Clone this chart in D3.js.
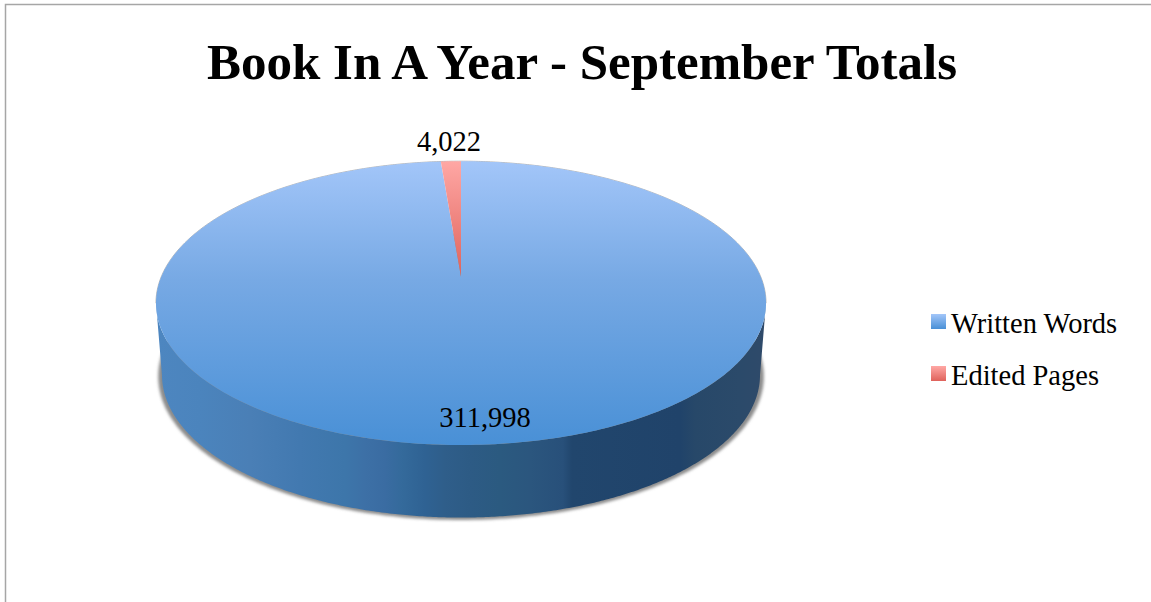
<!DOCTYPE html>
<html><head><meta charset="utf-8">
<script src="https://cdn.jsdelivr.net/npm/d3@7"></script>
<style>html,body{margin:0;padding:0;background:#fff}svg{display:block}text{font-family:"Liberation Serif",serif;fill:#000}</style>
</head><body><div id="c"></div>
<script>
const categories = ["Written Words", "Edited Pages"];
const values = [311998, 4022];
const valueLabels = ["311,998", "4,022"];
const titleText = "Book In A Year - September Totals";

const W = 1151, H = 602;
const svg = d3.select("#c").append("svg").attr("width", W).attr("height", H);
const defs = svg.append("defs");

// frame
svg.append("path").attr("d", `M5.5,${H}V4.5H${W}`).attr("fill", "none").attr("stroke", "#a6a6a6").attr("stroke-width", 1.5);

// gradients
function vgrad(id, y0, y1, stops) {
  const g = defs.append("linearGradient").attr("id", id).attr("gradientUnits", "userSpaceOnUse")
    .attr("x1", 0).attr("x2", 0).attr("y1", y0).attr("y2", y1);
  stops.forEach(s => g.append("stop").attr("offset", s[0]).attr("stop-color", s[1]));
}
vgrad("blueTop", 160, 445, [[0, "#a3c6f9"], [0.42, "#77a9e4"], [1, "#4990d6"]]);
vgrad("redTop", 160, 278, [[0, "#ffa8a5"], [1, "#df625b"]]);
const lg = (id, a, b) => { const g = defs.append("linearGradient").attr("id", id).attr("x1", 0).attr("x2", 0).attr("y1", 0).attr("y2", 1);
  g.append("stop").attr("offset", 0).attr("stop-color", a); g.append("stop").attr("offset", 1).attr("stop-color", b); };
lg("blueKey", "#a3c6f9", "#4990d6");
lg("redKey", "#ffa8a5", "#df625b");

const sideBands = [[157,"#4d86c0"],[200,"#4b84bd"],[250,"#4a7fb6"],[300,"#4279b0"],[345,"#3d76aa"],[365,"#3d70a6"],[385,"#3a6ca2"],[402,"#346a9b"],[425,"#2f6293"],[445,"#2f5e8a"],[470,"#2d5b85"],[500,"#2b5a80"],[530,"#2b567e"],[563,"#28507a"],[572,"#21466d"],[680,"#20436a"],[695,"#274869"],[740,"#2b4a6a"],[766,"#2f4a6a"]];
const xFrac = d3.scaleLinear().domain([157, 766]).range([0, 1]);
const sg = defs.append("linearGradient").attr("id", "side").attr("gradientUnits", "userSpaceOnUse")
  .attr("x1", 157).attr("x2", 766).attr("y1", 0).attr("y2", 0);
sideBands.forEach(b => sg.append("stop").attr("offset", xFrac(b[0])).attr("stop-color", b[1]));
defs.append("filter").attr("id", "blur").attr("x", "-5%").attr("y", "-5%").attr("width", "110%").attr("height", "110%")
  .append("feGaussianBlur").attr("stdDeviation", 1.6);

// perspective view of a flat disc: unit circle -> screen ellipse
const cx = 461, p = 0.186;
const view = (R, S, y0) => a => {
  const u = Math.sin(a), v = Math.cos(a), w = 1 + p * v;
  return [cx + R * u / w, y0 - S * v / w];
};
const topDisc = view(299.7, 137, 276.7);
const botDisc = view(293.8, 137.6, 348.5);
const shadowDisc = view(297.5, 138.5, 349.8);
const line = d3.line();
const sweep = (f, a0, a1, n = 360) => d3.range(n + 1).map(i => f(a0 + (a1 - a0) * i / n));

// shadow
svg.append("path").attr("d", line(sweep(shadowDisc, 0, 2 * Math.PI)) + "Z")
  .attr("fill", "#8c8c8c").attr("filter", "url(#blur)");

// side wall: front half between the widest points of the top and bottom rims
const aEdge = Math.PI / 2 + Math.asin(p);
const front = sweep(topDisc, aEdge, 2 * Math.PI - aEdge).concat(sweep(botDisc, 2 * Math.PI - aEdge, aEdge));
svg.append("path").attr("d", line(front) + "Z").attr("fill", "url(#side)");

// faint rim along the far edge
svg.append("path").attr("d", line(sweep(topDisc, -aEdge, aEdge)))
  .attr("fill", "none").attr("stroke", "#9a9a9a").attr("stroke-width", 1).attr("stroke-opacity", 0.7);

// top face from d3.pie
const slices = d3.pie().sort(null)(values);
const fills = ["url(#blueTop)", "url(#redTop)"];
const hubPoint = [cx, 276.7];
svg.append("g").selectAll("path").data(slices).join("path")
  .attr("d", d => line([hubPoint].concat(sweep(topDisc, d.startAngle, d.endAngle))) + "Z")
  .attr("fill", (d, i) => fills[i]);

// title
svg.append("text").attr("x", 582).attr("y", 79).attr("text-anchor", "middle")
  .attr("font-size", 51).attr("font-weight", "bold").text(titleText);

// value labels
const labelPos = [[485, 426.5], [449, 150.5]];
svg.append("g").selectAll("text").data(valueLabels).join("text")
  .attr("x", (d, i) => labelPos[i][0]).attr("y", (d, i) => labelPos[i][1])
  .attr("text-anchor", "middle").attr("font-size", 28.5).text(d => d);

// legend
const keyY = d3.scalePoint().domain(categories).range([314, 366]);
const keyFill = ["url(#blueKey)", "url(#redKey)"];
const lgd = svg.append("g").selectAll("g").data(categories).join("g")
  .attr("transform", d => `translate(931,${keyY(d)})`);
lgd.append("rect").attr("width", 15).attr("height", 15).attr("fill", (d, i) => keyFill[i]);
lgd.append("text").attr("x", 20).attr("y", 18.5).attr("font-size", 28.5).text(d => d);
</script></body></html>
